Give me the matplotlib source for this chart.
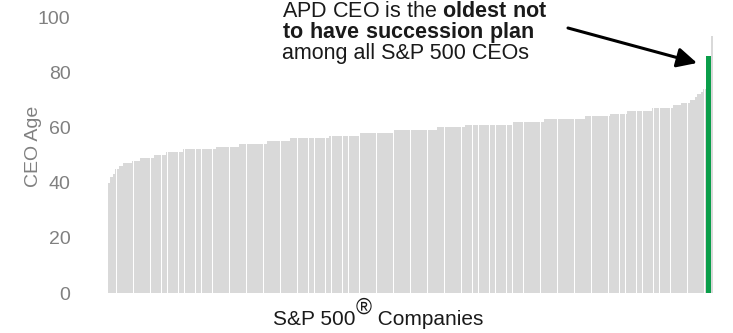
import numpy as np
import matplotlib.pyplot as plt

plt.rcParams['font.family'] = ['Liberation Sans', 'DejaVu Sans']
plt.rcParams['mathtext.fontset'] = 'custom'
plt.rcParams['mathtext.rm'] = 'Liberation Sans'
plt.rcParams['mathtext.bf'] = 'Liberation Sans:bold'

# CEO ages (sorted) as age -> number of companies
ages   = [40, 42, 43, 45, 46, 47, 48, 49, 50, 51, 52, 53, 54, 55, 56, 57, 58,
          59, 60, 61, 62, 63, 64, 65, 66, 67, 68, 69, 70, 71, 72, 73, 74]
counts = [2, 2, 2, 3, 3, 8, 6, 12, 10, 14, 27, 19, 23, 19, 32, 25, 28,
          36, 23, 39, 26, 34, 20, 14, 21, 17, 7, 7, 4, 2, 3, 2, 2]
apd_age    = 86
oldest_age = 93

grey  = '#d9d9d9'
green = '#0a9e4a'
ink   = '#1a1a1a'

others = np.repeat(ages, counts)
n = len(others)
apd_w = 4

fig = plt.figure(figsize=(7.33, 3.33), dpi=100)
ax = fig.add_axes([108/733, 40/333, 605/733, 276/333])

x = np.arange(n)
ax.bar(x, others, width=0.92, color=grey, linewidth=0)
ax.bar(n + apd_w/2 - 0.5, apd_age, width=apd_w, color=green, linewidth=0)
ax.bar(n + apd_w + 0.5, oldest_age, width=1.6, color=grey, linewidth=0)

ax.set_xlim(-0.5, n + apd_w + 1.5)
ax.set_ylim(0, 100)
ax.set_yticks([0, 20, 40, 60, 80, 100])
ax.set_xticks([])
ax.tick_params(axis='y', length=0, pad=27, labelsize=14, labelcolor='#808080')
for s in ax.spines.values():
    s.set_visible(False)

ax.set_ylabel('CEO Age', fontsize=14, color='#808080')
ax.yaxis.set_label_coords(-0.109, 0.53)

# x label with raised registered sign
t1 = fig.text(273/733, 4/333, 'S&P 500', fontsize=15, color=ink, va='bottom')
t2 = ax.annotate('®', xy=(1, 0.55), xycoords=t1, fontsize=15.5, color=ink,
                 va='bottom')
ax.annotate(' Companies', xy=(1, 0), xycoords=(t2, t1), fontsize=15,
            color=ink, va='bottom')

# annotation text, one block with bold parts
note = ('APD CEO is the $\\mathbf{oldest\\ not}$\n'
        '$\\mathbf{to\\ have\\ succession\\ plan}$\n'
        'among all S&P 500 CEOs')
fig.text(282/733, 1 - 1/333, note, fontsize=15.5, color=ink,
         va='top', linespacing=0.88)

ax.annotate('', xy=(697/733, 270/333), xycoords='figure fraction',
            xytext=(568/733, 305/333), textcoords='figure fraction',
            arrowprops=dict(arrowstyle='-|>', lw=2.2, color='black',
                            mutation_scale=30, shrinkA=0, shrinkB=0))

fig.savefig('out.png', dpi=100)
